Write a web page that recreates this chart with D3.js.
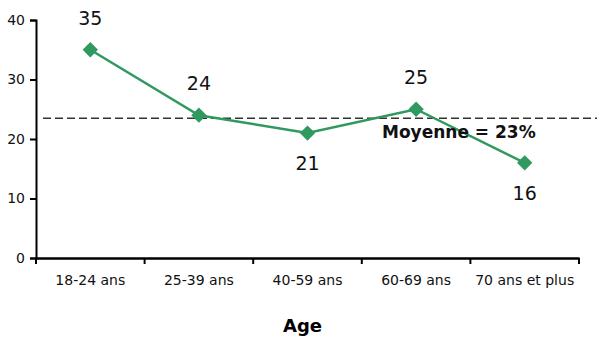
<!DOCTYPE html>
<html>
<head>
<meta charset="utf-8">
<script src="https://cdn.jsdelivr.net/npm/d3@7"></script>
<style>
  body { margin: 0; background: #fff; }
  text { font-family: "DejaVu Sans", "Liberation Sans", sans-serif; }
</style>
</head>
<body>
<div id="chart"></div>
<script>
// data
var ageGroups = ["18-24 ans", "25-39 ans", "40-59 ans", "60-69 ans", "70 ans et plus"]
var values = [35, 24, 21, 25, 16]
var labelAbove = [true, true, false, true, false]
var average = 23.5
var averageLabel = "Moyenne = 23%"
var yTicks = [0, 10, 20, 30, 40]

var W = 597, H = 338
var margin = {top: 20, right: 18, bottom: 80, left: 36},
    width = W - margin.left - margin.right,
    height = H - margin.top - margin.bottom

var svg = d3.select("#chart").append("svg")
    .attr("width", W).attr("height", H)
  .append("g")
    .attr("transform", "translate(" + margin.left + "," + margin.top + ")")

// scales
var x = d3.scaleBand().domain(ageGroups).range([0, width]).padding(0)
var y = d3.scaleLinear().domain([0, 40]).range([height, 0])

// y axis
var yAxis = svg.append("g")
  .call(d3.axisLeft(y).tickValues(yTicks).tickSize(6).tickPadding(5))
yAxis.select(".domain").attr("stroke", "#000").attr("stroke-width", 2)
yAxis.selectAll(".tick line").attr("stroke", "#000").attr("stroke-width", 2)
yAxis.selectAll("text").style("font-size", "14px").attr("fill", "#111")

// x axis with ticks at band edges
var xAxis = svg.append("g")
  .attr("transform", "translate(0," + height + ")")
  .call(d3.axisBottom(x).tickSize(0).tickPadding(17))
xAxis.select(".domain").attr("stroke", "#000").attr("stroke-width", 2.5)
xAxis.selectAll("text").style("font-size", "14px").attr("fill", "#111")
var edges = ageGroups.map(function(d){ return x(d) }).concat([width])
xAxis.selectAll(".edge")
  .data(edges)
  .enter().append("line")
    .attr("x1", function(d){ return d }).attr("x2", function(d){ return d })
    .attr("y1", 0).attr("y2", 6)
    .attr("stroke", "#000").attr("stroke-width", 2)

// axis title
svg.append("text")
  .attr("x", width / 2 - 5)
  .attr("y", height + 74)
  .attr("text-anchor", "middle")
  .style("font-size", "18px")
  .style("font-weight", "bold")
  .text("Age")

// average line
svg.append("line")
  .attr("x1", 7).attr("x2", W - margin.left)
  .attr("y1", y(average)).attr("y2", y(average))
  .attr("stroke", "#333").attr("stroke-width", 1.6)
  .style("stroke-dasharray", "8,4")

// series line
var green = "#2f9960"
var line = d3.line()
  .x(function(d, i){ return x(ageGroups[i]) + x.bandwidth() / 2 })
  .y(function(d){ return y(d) })
svg.append("path")
  .datum(values)
  .attr("d", line)
  .attr("fill", "none")
  .attr("stroke", green)
  .attr("stroke-width", 2.5)

// average label
svg.append("text")
  .attr("x", 346)
  .attr("y", y(average) + 20)
  .style("font-size", "17px")
  .style("font-weight", "bold")
  .attr("fill", "#111")
  .text(averageLabel)

// diamonds
svg.selectAll(".pt")
  .data(values)
  .enter().append("path")
    .attr("d", d3.symbol().type(d3.symbolDiamond2).size(150))
    .attr("transform", function(d, i){
      return "translate(" + (x(ageGroups[i]) + x.bandwidth() / 2) + "," + y(d) + ")" })
    .attr("fill", green)

// value labels
svg.selectAll(".val")
  .data(values)
  .enter().append("text")
    .attr("x", function(d, i){ return x(ageGroups[i]) + x.bandwidth() / 2 })
    .attr("y", function(d, i){ return labelAbove[i] ? y(d) - 25 : y(d) + 37 })
    .attr("text-anchor", "middle")
    .style("font-size", "19px")
    .attr("fill", "#111")
    .text(function(d){ return d })
</script>
</body>
</html>
